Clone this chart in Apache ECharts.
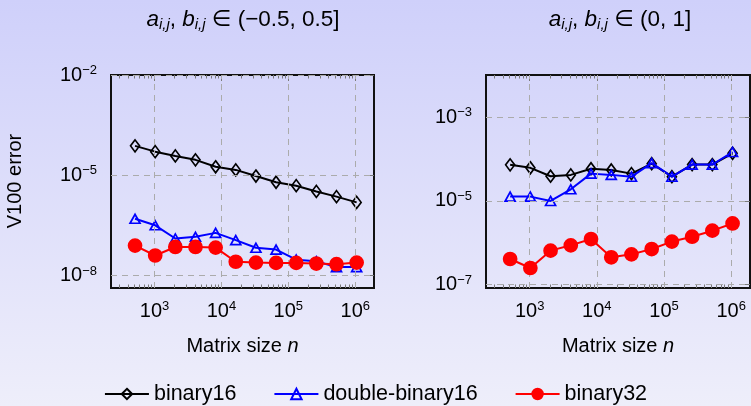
<!DOCTYPE html>
<html><head><meta charset="utf-8">
<script src="https://cdn.jsdelivr.net/npm/echarts@6/dist/echarts.min.js"></script>
<style>html,body{margin:0;padding:0;background:#e0e0fa}#c{width:751px;height:406px}</style>
</head><body><div id="c"></div>
<script>
// ---- data ----
const matrixSizes = [512, 1024, 2048, 4096, 8192, 16384, 32768, 65536, 131072, 262144, 524288, 1048576];
const seriesNames = ['binary16', 'double-binary16', 'binary32'];
// left panel: a,b in (-0.5, 0.5]
const leftBinary16 = [7.6e-5, 5.1e-5, 3.8e-5, 2.9e-5, 1.8e-5, 1.45e-5, 9.5e-6, 6.2e-6, 4.9e-6, 3.3e-6, 2.3e-6, 1.55e-6];
const leftDoubleBinary16 = [5.0e-7, 3.2e-7, 1.29e-7, 1.45e-7, 1.9e-7, 1.15e-7, 6.8e-8, 6.0e-8, 3.0e-8, 2.7e-8, 1.8e-8, 1.8e-8];
const leftBinary32 = [7.9e-8, 4.0e-8, 7.2e-8, 7.2e-8, 6.9e-8, 2.6e-8, 2.45e-8, 2.4e-8, 2.4e-8, 2.3e-8, 2.2e-8, 2.45e-8];
// right panel: a,b in (0, 1]
const rightBinary16 = [7.3e-5, 6.2e-5, 3.9e-5, 4.2e-5, 5.9e-5, 5.5e-5, 4.5e-5, 7.8e-5, 3.8e-5, 7.4e-5, 7.4e-5, 1.38e-4];
const rightDoubleBinary16 = [1.27e-5, 1.27e-5, 1.0e-5, 1.9e-5, 4.5e-5, 4.2e-5, 3.8e-5, 8.0e-5, 3.8e-5, 7.4e-5, 7.4e-5, 1.48e-4];
const rightBinary32 = [4.1e-7, 2.5e-7, 6.5e-7, 8.7e-7, 1.23e-6, 4.5e-7, 5.3e-7, 7.1e-7, 1.07e-6, 1.4e-6, 1.95e-6, 2.9e-6];
// tick exponents
const xTickExponents = [3, 4, 5, 6];
const leftYTickExponents = [-8, -5, -2];
const rightYTickExponents = [-7, -5, -3];
const minorMultipliers = [2, 3, 4, 5, 6, 7, 8, 9];
const leftTitle = '{i|a}{sub|i,j}{r|, }{i|b}{sub|i,j}{r| ∈ (−0.5, 0.5]}';
const rightTitle = '{i|a}{sub|i,j}{r|, }{i|b}{sub|i,j}{r| ∈ (0, 1]}';

// ---- chart ----
const FONT = 'Liberation Sans, Arial, Helvetica, DejaVu Sans, sans-serif';
const X_MIN = 2.35, X_MAX = 6.28;
const panels = [
  { left: 111, width: 263, yMin: -8.37, yMax: -2, yTicks: leftYTickExponents,
    data: [leftBinary16, leftDoubleBinary16, leftBinary32] },
  { left: 486, width: 264, yMin: -7.08, yMax: -1.99, yTicks: rightYTickExponents,
    data: [rightBinary16, rightDoubleBinary16, rightBinary32] }
];
const minorX = [];
for (let d = 2; d <= 6; d++) for (const k of minorMultipliers) {
  const v = Math.log10(k * Math.pow(10, d));
  if (v > X_MIN && v < X_MAX) minorX.push(v);
}
const supRich = {
  b: { fontSize: 20, fontFamily: FONT, color: '#000' },
  s: { fontSize: 13, fontFamily: FONT, color: '#000', padding: [0, 0, 9, 0] }
};
const expFmt = v => '{b|10}{s|' + String(Math.round(v)).replace('-', '−') + '}';
const tickColor = '#7a7a7a';

const grids = [], xAxes = [], yAxes = [], series = [];
const styles = [
  { color: '#000000', symbol: 'diamond', size: [9, 12], fill: 'rgba(0,0,0,0)' },
  { color: '#0000ff', symbol: 'triangle', size: [10, 9], fill: 'rgba(0,0,0,0)' },
  { color: '#ff0000', symbol: 'circle', size: 13, fill: '#ff0000' }
];
panels.forEach((p, g) => {
  grids.push({ left: p.left, width: p.width, top: 75, height: 213, show: true,
    borderColor: '#111', borderWidth: 2, backgroundColor: 'transparent', containLabel: false });
  const xBase = { type: 'value', gridIndex: g, min: X_MIN, max: X_MAX, axisLine: { show: false },
    splitLine: { show: false } };
  xAxes.push(Object.assign({}, xBase, { position: 'bottom',
    axisTick: { show: true, inside: true, length: 6, customValues: xTickExponents, lineStyle: { color: tickColor, width: 1 } },
    axisLabel: { show: true, customValues: xTickExponents, formatter: expFmt, rich: supRich, margin: 12 },
    name: 'Matrix size {it|n}', nameLocation: 'middle', nameGap: 48,
    nameTextStyle: { fontSize: 20, fontFamily: FONT, color: '#000',
      rich: { it: { fontSize: 20, fontFamily: FONT, fontStyle: 'italic', color: '#000' } } } }));
  xAxes.push(Object.assign({}, xBase, { position: 'top',
    axisTick: { show: true, inside: true, length: 6, customValues: xTickExponents, lineStyle: { color: tickColor, width: 1 } },
    axisLabel: { show: false } }));
  xAxes.push(Object.assign({}, xBase, { position: 'bottom',
    axisTick: { show: true, inside: true, length: 3.5, customValues: minorX, lineStyle: { color: tickColor, width: 1 } },
    axisLabel: { show: false } }));
  xAxes.push(Object.assign({}, xBase, { position: 'top',
    axisTick: { show: true, inside: true, length: 3.5, customValues: minorX, lineStyle: { color: tickColor, width: 1 } },
    axisLabel: { show: false } }));
  const yBase = { type: 'value', gridIndex: g, min: p.yMin, max: p.yMax, axisLine: { show: false },
    splitLine: { show: false } };
  yAxes.push(Object.assign({}, yBase, { position: 'left',
    axisTick: { show: true, inside: true, length: 6, customValues: p.yTicks, lineStyle: { color: tickColor, width: 1 } },
    axisLabel: { show: true, customValues: p.yTicks, formatter: expFmt, rich: supRich, margin: 14 } }));
  yAxes.push(Object.assign({}, yBase, { position: 'right',
    axisTick: { show: true, inside: true, length: 6, customValues: p.yTicks, lineStyle: { color: tickColor, width: 1 } },
    axisLabel: { show: false } }));
  // grid lines
  const gl = xTickExponents.map(v => ({ xAxis: v })).concat(p.yTicks.map(v => ({ yAxis: v })));
  series.push({ type: 'line', name: 'gridlines' + g, xAxisIndex: g * 4, yAxisIndex: g * 2, z: 1,
    data: [[xTickExponents[0], p.yTicks[1]]], symbol: 'none', lineStyle: { width: 0 }, silent: true,
    markLine: { silent: true, symbol: ['none', 'none'], label: { show: false },
      lineStyle: { type: [6, 5], color: '#ababab', width: 1 }, data: gl } });
  p.data.forEach((vals, k) => {
    const st = styles[k];
    series.push({ type: 'line', name: seriesNames[k], xAxisIndex: g * 4, yAxisIndex: g * 2, z: 3 + k,
      data: matrixSizes.map((n, i) => [Math.log10(n), Math.log10(vals[i])]),
      symbol: st.symbol, symbolSize: st.size, showSymbol: true,
      lineStyle: { color: st.color, width: 2 },
      itemStyle: { color: st.fill, borderColor: st.color, borderWidth: 1.7 } });
  });
});

const titleRich = {
  i: { fontSize: 22.5, fontStyle: 'italic', fontFamily: FONT, fill: '#000' },
  sub: { fontSize: 15, fontStyle: 'italic', fontFamily: FONT, fill: '#000', padding: [10, 0, 0, 0] },
  r: { fontSize: 22.5, fontFamily: FONT, fill: '#000' }
};
const chart = echarts.init(document.getElementById('c'), null, { renderer: 'canvas' });
chart.setOption({
  animation: false,
  backgroundColor: { type: 'linear', x: 0, y: 0, x2: 0, y2: 1,
    colorStops: [{ offset: 0, color: '#cfd0fa' }, { offset: 1, color: '#eeeefa' }] },
  textStyle: { fontFamily: FONT },
  grid: grids, xAxis: xAxes, yAxis: yAxes, series: series,
  legend: { data: seriesNames, left: 'center', top: 378, itemWidth: 44, itemHeight: 13, itemGap: 37,
    textStyle: { fontSize: 21.5, fontFamily: FONT, color: '#000' } },
  graphic: [
    { type: 'text', x: 243, y: 20, style: { text: leftTitle, align: 'center', verticalAlign: 'middle', rich: titleRich } },
    { type: 'text', x: 620, y: 20, style: { text: rightTitle, align: 'center', verticalAlign: 'middle', rich: titleRich } },
    { type: 'text', x: 15, y: 181, rotation: Math.PI / 2, style: { text: 'V100 error', align: 'center',
      verticalAlign: 'middle', fontSize: 20, fontFamily: FONT, fill: '#000' } }
  ]
});
</script>
</body></html>
